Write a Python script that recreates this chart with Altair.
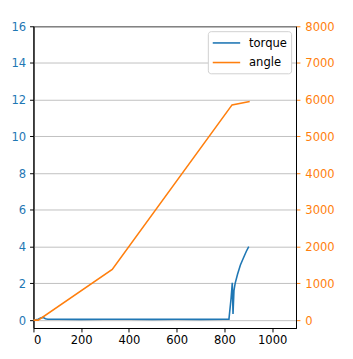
import altair as alt
import pandas as pd

torque_x = [0, 10, 20, 30, 40, 50, 60, 100, 200, 300, 400, 500, 600, 700, 800, 819,
            828, 833, 836, 840, 845, 855, 867, 880, 892, 902]
torque_y = [0.0, 0.02, 0.05, 0.12, 0.15, 0.08, 0.05, 0.05, 0.04, 0.05, 0.05, 0.04, 0.05,
            0.04, 0.05, 0.05, 1.2, 2.03, 0.34, 1.6, 2.0, 2.5, 3.0, 3.4, 3.75, 4.0]

angle_x = [0, 20, 330, 832, 906]
angle_y = [0, 0, 1380, 5860, 5950]

BLUE = "#1f77b4"
ORANGE = "#ff7f0e"
FONT = "DejaVu Sans"
FS = 11.8

df_t = pd.DataFrame({"x": torque_x, "v": torque_y, "series": "torque",
                     "i": range(len(torque_x))})
df_a = pd.DataFrame({"x": angle_x, "v": angle_y, "series": "angle",
                     "i": range(len(angle_x))})

color = alt.Color("series:N",
                  scale=alt.Scale(domain=["torque", "angle"], range=[BLUE, ORANGE]),
                  legend=alt.Legend(title=None, orient="top-right", offset=5,
                                    symbolType="M-1,0H3", symbolSize=196,
                                    symbolStrokeWidth=1.6, labelFontSize=FS,
                                    labelFont=FONT, labelColor="#000000",
                                    fillColor="white", strokeColor="#d0d0d0",
                                    cornerRadius=3, padding=4, rowPadding=5,
                                    labelOffset=22))

xenc = alt.X("x:Q", scale=alt.Scale(domain=[0, 1100], nice=False),
             axis=alt.Axis(values=[0, 200, 400, 600, 800, 1000], title=None,
                           grid=False, labelFont=FONT, labelFontSize=FS,
                           labelColor="#000000", tickColor="#000000",
                           domainColor="#000000", tickSize=4, labelPadding=3,
                           format="d"))

torque = alt.Chart(df_t).mark_line(strokeWidth=1.6).encode(
    x=xenc,
    y=alt.Y("v:Q", scale=alt.Scale(domain=[-0.43, 16], nice=False, zero=False),
            axis=alt.Axis(orient="left", values=list(range(0, 17, 2)), title=None,
                          grid=True, gridColor="#b0b0b0", gridWidth=0.8,
                          labelFont=FONT, labelFontSize=FS, labelColor=BLUE,
                          tickColor="#000000", domainColor="#000000",
                          tickSize=4, labelPadding=4, format="d")),
    color=color,
    order="i:Q",
)

angle = alt.Chart(df_a).mark_line(strokeWidth=1.6).encode(
    x=xenc,
    y=alt.Y("v:Q", scale=alt.Scale(domain=[-215, 8000], nice=False, zero=False),
            axis=alt.Axis(orient="right", values=list(range(0, 8001, 1000)),
                          title=None, grid=False, labelFont=FONT,
                          labelFontSize=FS, labelColor=ORANGE,
                          tickColor=ORANGE, domainColor="#000000",
                          tickSize=4, labelPadding=5, format="d")),
    color=color,
    order="i:Q",
)

chart = alt.layer(torque, angle).resolve_scale(y="independent").properties(
    width=268, height=308,
    autosize=alt.AutoSizeParams(type="none"),
    padding={"left": 26, "top": 15, "right": 50, "bottom": 30},
).configure_view(stroke="#000000", strokeWidth=1)

chart.save("out.html", embed_options={"renderer": "svg", "actions": False})
